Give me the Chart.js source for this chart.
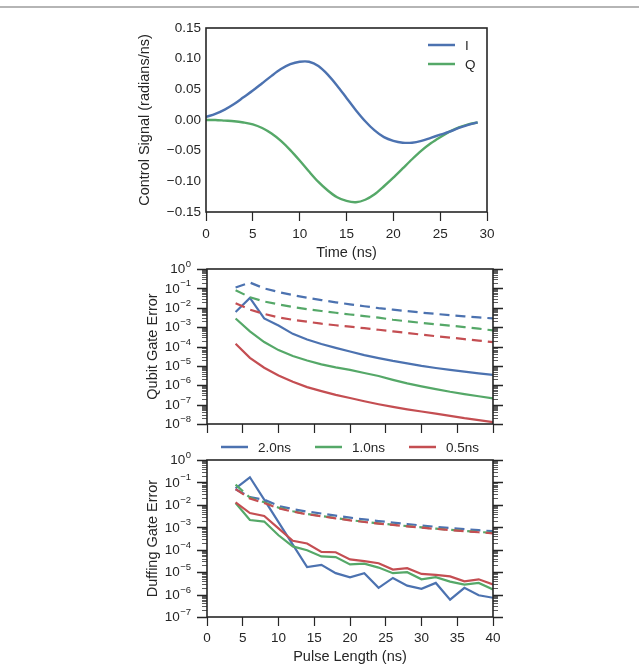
<!DOCTYPE html>
<html>
<head>
<meta charset="utf-8">
<script src="https://cdn.jsdelivr.net/npm/chart.js@4.4.1/dist/chart.umd.min.js"></script>
<style>
  html, body { margin: 0; padding: 0; background: #fff; }
  #page { position: relative; width: 639px; height: 672px; overflow: hidden; }
  #rule { position: absolute; left: 0; top: 6px; width: 639px; height: 2px; background: #b5b5b5; }
  canvas { position: absolute; left: 0; }
</style>
</head>
<body>
<div id="page">
  <div id="rule"></div>
  <canvas id="signal" width="639" height="270" style="top:0px"></canvas>
  <canvas id="qubit" width="639" height="200" style="top:258px"></canvas>
  <canvas id="duffing" width="639" height="222" style="top:450px"></canvas>
</div>
<script>
// Top panel: control pulse
const times = [0,1,2,3,4,5,6,7,8,9,10,11,12,13,14,15,16,17,18,19,20,21,22,23,24,25,26,27,28,29];
const signalI = [0.005,0.010,0.017,0.026,0.037,0.048,0.060,0.072,0.083,0.091,0.095,0.095,0.088,0.074,0.056,
                 0.036,0.016,-0.002,-0.017,-0.028,-0.034,-0.037,-0.037,-0.034,-0.029,-0.024,-0.019,-0.013,-0.008,-0.004];
const signalQ = [0.000,0.000,-0.001,-0.002,-0.004,-0.007,-0.013,-0.022,-0.034,-0.049,-0.066,-0.084,-0.101,-0.115,-0.126,
                 -0.132,-0.134,-0.130,-0.121,-0.108,-0.094,-0.079,-0.064,-0.050,-0.038,-0.028,-0.019,-0.012,-0.007,-0.004];

// Middle + bottom panels: error vs pulse length
const pulseLengths = [4,6,8,10,12,14,16,18,20,22,24,26,28,30,32,34,36,38,40];
const pulseLabels = ['2.0ns', '1.0ns', '0.5ns'];

const qubitSolid20 = [6e-3,3.2e-2,2.8e-3,1.2e-3,4.5e-4,2.3e-4,1.35e-4,8.5e-5,5.5e-5,3.6e-5,2.5e-5,1.8e-5,1.35e-5,1.0e-5,7.8e-6,6.2e-6,5.0e-6,4.1e-6,3.4e-6];
const qubitSolid10 = [2.8e-3,6e-4,1.7e-4,6.5e-5,3.2e-5,1.9e-5,1.2e-5,8.3e-6,6.2e-6,4.3e-6,3.0e-6,1.9e-6,1.25e-6,8.8e-7,6.3e-7,4.6e-7,3.5e-7,2.7e-7,2.1e-7];
const qubitSolid05 = [1.4e-4,2.6e-5,8e-6,3.2e-6,1.5e-6,8e-7,5e-7,3.2e-7,2.2e-7,1.5e-7,1.05e-7,7.6e-8,5.7e-8,4.4e-8,3.4e-8,2.6e-8,2.0e-8,1.6e-8,1.25e-8];
const qubitDash20 = [0.11,0.2,0.1,6.5e-2,4.5e-2,3.3e-2,2.5e-2,1.9e-2,1.5e-2,1.2e-2,9.6e-3,8e-3,6.7e-3,5.6e-3,4.8e-3,4.1e-3,3.6e-3,3.2e-3,2.8e-3];
const qubitDash10 = [8e-2,3.5e-2,2.1e-2,1.5e-2,1.1e-2,8.5e-3,6.8e-3,5.5e-3,4.5e-3,3.7e-3,3.1e-3,2.4e-3,2.0e-3,1.65e-3,1.4e-3,1.2e-3,1.0e-3,8.3e-4,6.8e-4];
const qubitDash05 = [1.7e-2,8e-3,4.8e-3,3.2e-3,2.4e-3,1.9e-3,1.5e-3,1.25e-3,1.05e-3,8.8e-4,7.3e-4,6e-4,5e-4,4.1e-4,3.4e-4,2.9e-4,2.4e-4,2e-4,1.7e-4];

const duffSolid20 = [5.4e-2,0.17,1.7e-2,1.7e-3,1.7e-4,1.7e-5,2.1e-5,9e-6,5.9e-6,9e-6,2e-6,5.5e-6,2.5e-6,1.8e-6,3.3e-6,5.9e-7,2e-6,9.3e-7,7.2e-7];
const duffSolid10 = [1.2e-2,2.1e-3,1.8e-3,4.4e-4,1.4e-4,9.5e-5,5e-5,4.7e-5,2.2e-5,2.4e-5,1.6e-5,9e-6,1e-5,4.8e-6,6e-6,3.8e-6,2.8e-6,3.3e-6,1.7e-6];
const duffSolid05 = [1.3e-2,4.3e-3,3.2e-3,9e-4,2.5e-4,1.9e-4,8e-5,7.7e-5,3.7e-5,3.1e-5,2.5e-5,1.3e-5,1.5e-5,8.3e-6,7.5e-6,6.5e-6,3.9e-6,4.8e-6,2.8e-6];
const duffDash20 = [5e-2,2.2e-2,1.7e-2,9e-3,6.5e-3,5e-3,4.1e-3,3.3e-3,2.7e-3,2.25e-3,1.9e-3,1.62e-3,1.4e-3,1.2e-3,1.05e-3,9.3e-4,8.3e-4,7.4e-4,6.7e-4];
const duffDash10 = [8e-2,2.1e-2,1.3e-2,7.5e-3,5.2e-3,3.9e-3,3.2e-3,2.6e-3,2.1e-3,1.77e-3,1.5e-3,1.3e-3,1.13e-3,9.9e-4,8.7e-4,7.7e-4,6.9e-4,6.2e-4,5.6e-4];
const duffDash05 = [5e-2,1.9e-2,1.2e-2,7e-3,5e-3,3.8e-3,3.1e-3,2.5e-3,2.05e-3,1.72e-3,1.47e-3,1.27e-3,1.1e-3,9.6e-4,8.5e-4,7.5e-4,6.7e-4,6e-4,5.4e-4];

const BLUE = '#4c72b0', GREEN = '#55a868', RED = '#c44e52';
const INK = '#262626';
const FAMILY = '"Liberation Sans", Arial, Helvetica, sans-serif';
const tickFont = { family: FAMILY, size: 13.5 };
const titleFont = { family: FAMILY, size: 14.5 };

function pairs(xs, ys) {
    return xs.map((x, i) => ({ x: x, y: ys[i] }));
}

// frame round the plot area; on log panels also the decade labels (10 + raised exponent)
// and major/minor tick marks on both sides
const framePlugin = {
    id: 'frame',
    afterDraw(chart, args, opts) {
        const ctx = chart.ctx, a = chart.chartArea;
        ctx.save();
        if (opts.logTicks) {
            const y = chart.scales.y;
            const e0 = Math.round(Math.log10(y.min)), e1 = Math.round(Math.log10(y.max));
            for (let e = e0; e <= e1; e++) {
                for (let m = 1; m <= 9; m++) {
                    const v = m * Math.pow(10, e);
                    if (v > y.max * 1.0001) break;
                    const py = Math.round(y.getPixelForValue(v)) + 0.5;
                    const len = m === 1 ? 10 : 5;
                    ctx.strokeStyle = m === 1 ? INK : '#4a4a4a';
                    ctx.lineWidth = m === 1 ? 1.3 : 0.9;
                    ctx.beginPath();
                    ctx.moveTo(a.left - len, py); ctx.lineTo(a.left, py);
                    ctx.moveTo(a.right, py); ctx.lineTo(a.right + len, py);
                    ctx.stroke();
                }
                // label
                const py = y.getPixelForValue(Math.pow(10, e));
                const exp = String(e).replace('-', '\u2212');
                ctx.fillStyle = INK;
                ctx.textAlign = 'right';
                ctx.font = '9.5px ' + FAMILY;
                const ew = ctx.measureText(exp).width;
                ctx.textBaseline = 'alphabetic';
                ctx.fillText(exp, opts.labelRight, py - 2);
                ctx.font = '13.5px ' + FAMILY;
                ctx.textBaseline = 'middle';
                ctx.fillText('10', opts.labelRight - ew - 0.5, py + 0.5);
            }
        }
        ctx.strokeStyle = INK;
        ctx.lineWidth = 1.6;
        ctx.strokeRect(a.left, a.top, a.right - a.left, a.bottom - a.top);
        ctx.restore();
    }
};

// simple line-sample legend
const lineLegendPlugin = {
    id: 'lineLegend',
    afterDraw(chart, args, opts) {
        if (!opts.items) return;
        const ctx = chart.ctx;
        ctx.save();
        ctx.font = '13.5px ' + FAMILY;
        ctx.textBaseline = 'middle';
        ctx.fillStyle = INK;
        opts.items.forEach((it, i) => {
            const x = opts.x + (opts.vertical ? 0 : i * opts.step);
            const y = opts.y + (opts.vertical ? i * opts.step : 0);
            ctx.strokeStyle = it.color;
            ctx.lineWidth = 2.5;
            ctx.beginPath();
            ctx.moveTo(x, y); ctx.lineTo(x + 27, y);
            ctx.stroke();
            ctx.fillText(it.label, x + 37, y + 1);
        });
        ctx.restore();
    }
};

function solid(data, color, order) {
    return { data: data, borderColor: color, borderWidth: 2.2, pointRadius: 0, fill: false, tension: 0, order: order };
}
function dashed(data, color, order) {
    return { data: data, borderColor: color, borderWidth: 2.2, pointRadius: 0, fill: false, tension: 0,
             borderDash: [10, 6], order: order };
}

function pulseXAxis(showLabels, height) {
    return {
        type: 'linear', min: 0, max: 40,
        afterFit: s => { s.height = height; },
        grid: { display: true, drawOnChartArea: false, drawTicks: true, tickLength: 9, tickColor: INK, tickWidth: 1.2 },
        border: { display: false },
        ticks: { display: showLabels, stepSize: 5, padding: 4, color: INK, font: tickFont, maxRotation: 0 },
        title: showLabels
            ? { display: true, text: 'Pulse Length (ns)', color: INK, font: titleFont, padding: { top: 0, bottom: 6.3 } }
            : { display: false }
    };
}

function logYAxis(min, title) {
    return {
        type: 'logarithmic', min: min, max: 1,
        afterFit: s => { s.width = 71; },
        grid: { display: false, drawTicks: false },
        border: { display: false },
        ticks: { display: false },
        title: { display: true, text: title, color: INK, font: titleFont, padding: { top: 8.3, bottom: 0 } }
    };
}

const common = {
    responsive: false,
    animation: false,
    events: []
};

// Panel 1
new Chart(document.getElementById('signal'), {
    type: 'line',
    data: {
        datasets: [
            { label: 'I', data: pairs(times, signalI), borderColor: BLUE, borderWidth: 2.4, pointRadius: 0, tension: 0.3, fill: false },
            { label: 'Q', data: pairs(times, signalQ), borderColor: GREEN, borderWidth: 2.4, pointRadius: 0, tension: 0.3, fill: false }
        ]
    },
    options: Object.assign({}, common, {
        layout: { padding: { left: 130, right: 152, top: 28, bottom: 0 } },
        scales: {
            x: {
                type: 'linear', min: 0, max: 30,
                afterFit: s => { s.height = 58; },
                grid: { display: true, drawOnChartArea: false, drawTicks: true, tickLength: 9, tickColor: INK, tickWidth: 1.2 },
                border: { display: false },
                ticks: { stepSize: 5, padding: 5, color: INK, font: tickFont, maxRotation: 0 },
                title: { display: true, text: 'Time (ns)', color: INK, font: titleFont, padding: { top: 0, bottom: 8.3 } }
            },
            y: {
                min: -0.15, max: 0.15,
                afterFit: s => { s.width = 76; },
                grid: { display: false, drawTicks: false },
                border: { display: false },
                ticks: {
                    stepSize: 0.05, padding: 5, color: INK, font: tickFont,
                    callback: v => (v < -1e-9 ? '\u2212' : '') + Math.abs(v).toFixed(2)
                },
                title: { display: true, text: 'Control Signal (radians/ns)', color: INK, font: titleFont, padding: { top: 6.3, bottom: 0 } }
            }
        },
        plugins: {
            legend: { display: false },
            tooltip: { enabled: false },
            frame: {},
            lineLegend: { x: 428, y: 45, step: 19, vertical: true,
                          items: [{ label: 'I', color: BLUE }, { label: 'Q', color: GREEN }] }
        }
    }),
    plugins: [framePlugin, lineLegendPlugin]
});

// Panel 2
new Chart(document.getElementById('qubit'), {
    type: 'line',
    data: {
        datasets: [
            solid(pairs(pulseLengths, qubitSolid20), BLUE, 6),
            dashed(pairs(pulseLengths, qubitDash20), BLUE, 5),
            solid(pairs(pulseLengths, qubitSolid10), GREEN, 4),
            dashed(pairs(pulseLengths, qubitDash10), GREEN, 3),
            solid(pairs(pulseLengths, qubitSolid05), RED, 2),
            dashed(pairs(pulseLengths, qubitDash05), RED, 1)
        ]
    },
    options: Object.assign({}, common, {
        layout: { padding: { left: 136, right: 146, top: 11, bottom: 0 } },
        scales: { x: pulseXAxis(false, 34), y: logYAxis(1e-8, 'Qubit Gate Error') },
        plugins: {
            legend: { display: false },
            tooltip: { enabled: false },
            frame: { logTicks: true, labelRight: 191 },
            lineLegend: { x: 221, y: 189, step: 94, vertical: false,
                          items: pulseLabels.map((l, i) => ({ label: l, color: [BLUE, GREEN, RED][i] })) }
        }
    }),
    plugins: [framePlugin, lineLegendPlugin]
});

// Panel 3
new Chart(document.getElementById('duffing'), {
    type: 'line',
    data: {
        datasets: [
            solid(pairs(pulseLengths, duffSolid20), BLUE, 6),
            dashed(pairs(pulseLengths, duffDash20), BLUE, 5),
            solid(pairs(pulseLengths, duffSolid10), GREEN, 4),
            dashed(pairs(pulseLengths, duffDash10), GREEN, 3),
            solid(pairs(pulseLengths, duffSolid05), RED, 2),
            dashed(pairs(pulseLengths, duffDash05), RED, 1)
        ]
    },
    options: Object.assign({}, common, {
        layout: { padding: { left: 136, right: 146, top: 10, bottom: 0 } },
        scales: { x: pulseXAxis(true, 55), y: logYAxis(1e-7, 'Duffing Gate Error') },
        plugins: {
            legend: { display: false },
            tooltip: { enabled: false },
            frame: { logTicks: true, labelRight: 191 }
        }
    }),
    plugins: [framePlugin, lineLegendPlugin]
});
</script>
</body>
</html>
